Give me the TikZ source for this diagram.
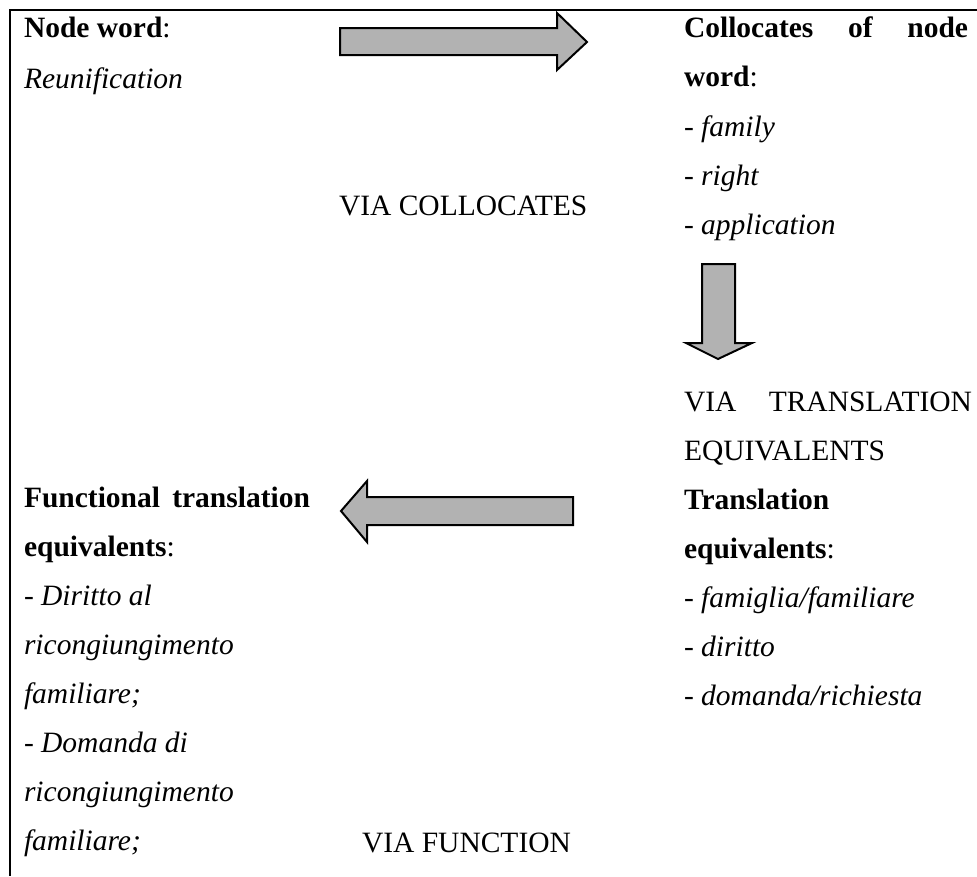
\documentclass[tikz,border=0pt]{standalone}
\usepackage{fontspec}
\setmainfont{Liberation Serif}
\begin{document}
\begin{tikzpicture}[x=1pt,y=-1pt,
  txt/.style={anchor=base west,inner sep=0pt,outer sep=0pt,font=\fontsize{29.5}{35}\selectfont},
  blockarrow/.style={draw=black,line width=2pt,fill=black!30,line join=miter}]
\useasboundingbox (0,0) rectangle (977,876);
% table borders
\draw[line width=2.5pt] (977,10) -- (10,10) -- (10,876);
% left top cell
\node[txt] (nw) at (24,37) {\textbf{Node word}:};
\node[txt] (re) at (24,88) {\textit{Reunification}};
% middle top
\node[txt] (vc) at (339,215) {VIA COLLOCATES};
% right top
\node[txt] (c1) at (684,37) {\makebox[284pt][s]{\textbf{Collocates of node}}};
\node[txt] (c2) at (684,86) {\textbf{word}:};
\node[txt] (c3) at (684,136) {\textit{- family}};
\node[txt] (c4) at (684,185) {\textit{- right}};
\node[txt] (c5) at (684,234) {\textit{- application}};
\node[txt] (vt1) at (684,411) {\makebox[288pt][s]{VIA TRANSLATION}};
\node[txt] (vt2) at (684,460) {EQUIVALENTS};
\node[txt] (t1) at (684,509) {\textbf{Translation}};
\node[txt] (t2) at (684,558) {\textbf{equivalents}:};
\node[txt] (t3) at (684,607) {\textit{- famiglia/familiare}};
\node[txt] (t4) at (684,656) {\textit{- diritto}};
\node[txt] (t5) at (684,705) {\textit{- domanda/richiesta}};
% left bottom
\node[txt] (f1) at (24,507) {\makebox[286pt][s]{\textbf{Functional translation}}};
\node[txt] (f2) at (24,556) {\textbf{equivalents}:};
\node[txt] (f3) at (24,605) {\textit{- Diritto al}};
\node[txt] (f4) at (24,654) {\textit{ricongiungimento}};
\node[txt] (f5) at (24,703) {\textit{familiare;}};
\node[txt] (f6) at (24,752) {\textit{- Domanda di}};
\node[txt] (f7) at (24,801) {\textit{ricongiungimento}};
\node[txt] (f8) at (24,850) {\textit{familiare;}};
\node[txt] (vf) at (362,852) {VIA FUNCTION};
% block arrows
\draw[blockarrow] (340,28) -- (557,28) -- (557,13) -- (587,42) -- (557,70) -- (557,55) -- (340,55) -- cycle;
\draw[blockarrow] (702,264) -- (735,264) -- (735,343) -- (752,343) -- (718,359) -- (686,343) -- (702,343) -- cycle;
\draw[blockarrow] (573,497) -- (367,497) -- (367,481) -- (341,511) -- (367,542) -- (367,525) -- (573,525) -- cycle;
\end{tikzpicture}
\end{document}
